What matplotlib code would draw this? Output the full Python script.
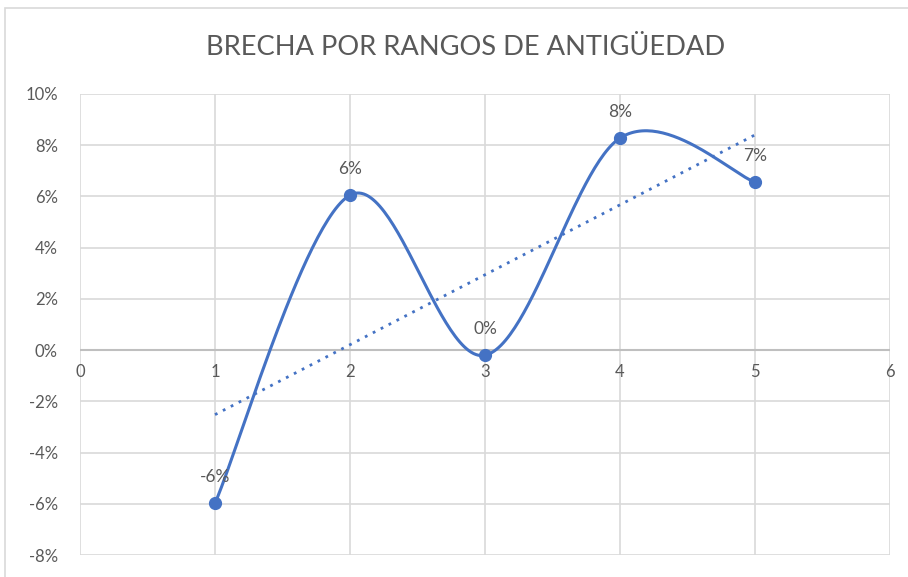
import numpy as np
import matplotlib.pyplot as plt
from matplotlib.patches import Rectangle
from matplotlib.ticker import FuncFormatter, MultipleLocator

# brecha salarial por rango de antigüedad
rangos = [1, 2, 3, 4, 5]
brecha = [-0.0598, 0.0605, -0.0020, 0.0828, 0.0656]
etiquetas = ["-6%", "6%", "0%", "8%", "7%"]

azul = "#4472C4"
gris_texto = "#595959"
gris_rejilla = "#d9d9d9"


def curva_suave(xs, ys, n=60):
    # spline tipo Excel: Bezier cúbica con puntos de control de Catmull-Rom
    xs = np.asarray(xs, float)
    ys = np.asarray(ys, float)
    pts = np.column_stack([xs, ys])
    ext = np.vstack([pts[0], pts, pts[-1]])
    out = []
    t = np.linspace(0, 1, n)[:, None]
    for i in range(len(pts) - 1):
        p0, p1, p2, p3 = ext[i], ext[i + 1], ext[i + 2], ext[i + 3]
        c1 = p1 + (p2 - p0) / 6
        c2 = p2 - (p3 - p1) / 6
        seg = ((1 - t) ** 3) * p1 + 3 * ((1 - t) ** 2) * t * c1 + 3 * (1 - t) * t ** 2 * c2 + t ** 3 * p2
        out.append(seg)
    seg = np.vstack(out)
    return seg[:, 0], seg[:, 1]


plt.rcParams["font.family"] = ["Lato", "DejaVu Sans"]

fig = plt.figure(figsize=(9.08, 5.77), dpi=100)
ax = fig.add_axes([0.0881, 0.0381, 0.8921, 0.799])

# marco del área del gráfico
fig.patches.append(Rectangle((5 / 908, -0.01), 1.1, 1 - 8 / 577 + 0.01,
                             transform=fig.transFigure, fill=False,
                             edgecolor="#d9d9d9", linewidth=1.2))

sx, sy = curva_suave(rangos, brecha)
ax.plot(sx, sy, color=azul, linewidth=2.2, zorder=3)
ax.plot(rangos, brecha, "o", color=azul, markersize=8.5, zorder=4)

# línea de tendencia lineal
coef = np.polyfit(rangos, brecha, 1)
tx = np.array([rangos[0], rangos[-1]])
ax.plot(tx, np.polyval(coef, tx), linestyle=(0, (1, 2.2)), color=azul,
        linewidth=2, zorder=3)

for x, y, txt in zip(rangos, brecha, etiquetas):
    ax.annotate(txt, (x, y), xytext=(0, 13), textcoords="offset points",
                ha="center", va="bottom", fontsize=12.5, color=gris_texto)

ax.set_xlim(0, 6)
ax.set_ylim(-0.08, 0.10)
ax.xaxis.set_major_locator(MultipleLocator(1))
ax.yaxis.set_major_locator(MultipleLocator(0.02))
ax.yaxis.set_major_formatter(FuncFormatter(lambda v, p: f"{round(v * 100):.0f}%"))

ax.grid(True, color=gris_rejilla, linewidth=1.2)
ax.set_axisbelow(True)
for s in ax.spines.values():
    s.set_visible(False)
ax.axhline(0, color="#bfbfbf", linewidth=1.5, zorder=2)

ax.tick_params(length=0, labelsize=12, labelcolor=gris_texto)
ax.tick_params(axis="y", pad=16)
# etiquetas del eje x justo debajo de la línea del cero
ax.set_xticklabels([])
for x in range(0, 7):
    ax.text(x, -0.0055, str(x), ha="center", va="top", fontsize=12,
            color=gris_texto)

fig.text(0.513, 0.918, "BRECHA POR RANGOS DE ANTIGÜEDAD", ha="center",
         va="center", fontsize=19.6, color=gris_texto)

fig.savefig("out.png", dpi=100)
